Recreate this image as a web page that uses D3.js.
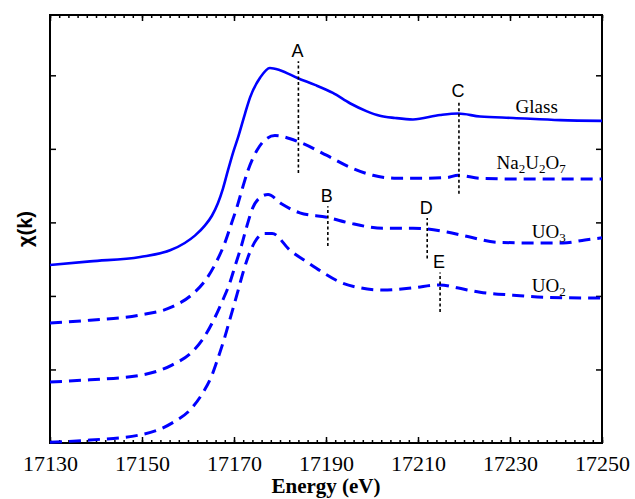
<!DOCTYPE html>
<html>
<head>
<meta charset="utf-8">
<script src="https://cdn.jsdelivr.net/npm/d3@7"></script>
<style>
  body { margin: 0; background: #fff; }
  svg { display: block; }
</style>
</head>
<body>
<div id="chart"></div>
<script>
// spectra (energy in eV, offset absorbance)
var glassE = [17130.0,17138.7,17149.6,17156.1,17159.3,17161.5,17163.7,17165.2,17166.5,17167.6,17168.7,17169.8,17170.9,17172.4,17173.5,17175.7,17177.8,17180.0,17183.9,17187.6,17191.5,17195.2,17198.9,17201.7,17205.0,17208.9,17214.8,17218.7,17223.5,17230.7,17240.9,17250.0];
var glassV = [2.42,2.47,2.53,2.62,2.72,2.82,2.96,3.09,3.26,3.46,3.71,3.95,4.16,4.48,4.70,4.97,5.10,5.07,4.96,4.87,4.76,4.62,4.51,4.45,4.42,4.40,4.46,4.48,4.44,4.42,4.39,4.38];

var naE = [17130.0,17138.7,17149.6,17156.5,17160.9,17164.1,17166.3,17168.0,17169.1,17170.7,17172.0,17173.0,17175.0,17176.7,17178.9,17184.3,17190.2,17195.2,17200.2,17205.4,17210.4,17216.3,17218.7,17223.5,17230.7,17240.9,17250.0];
var naV = [1.63,1.67,1.74,1.85,2.02,2.24,2.48,2.72,2.92,3.22,3.50,3.70,3.98,4.12,4.18,4.09,3.91,3.75,3.64,3.60,3.60,3.61,3.64,3.60,3.59,3.59,3.59];

var uo3E = [17130.0,17138.7,17149.6,17156.5,17160.9,17163.3,17165.4,17167.4,17169.1,17170.2,17171.7,17172.8,17174.1,17175.7,17177.4,17180.4,17184.3,17190.2,17195.2,17202.4,17208.9,17212.0,17216.3,17221.3,17227.2,17234.3,17241.5,17246.3,17250.0];
var uo3V = [0.83,0.86,0.92,1.06,1.24,1.42,1.65,1.92,2.18,2.40,2.70,2.95,3.20,3.34,3.38,3.25,3.13,3.07,2.99,2.92,2.92,2.91,2.87,2.80,2.73,2.72,2.72,2.76,2.79];

var uo2E = [17130.0,17138.7,17149.6,17156.5,17160.9,17163.3,17165.2,17166.5,17168.0,17169.1,17170.7,17171.7,17173.0,17175.0,17176.7,17178.3,17182.2,17185.9,17189.3,17193.0,17197.4,17202.4,17208.9,17214.8,17218.5,17223.5,17230.7,17238.0,17250.0];
var uo2V = [0.01,0.04,0.11,0.27,0.48,0.69,0.92,1.15,1.44,1.68,2.03,2.26,2.52,2.78,2.85,2.85,2.62,2.46,2.32,2.19,2.11,2.08,2.11,2.15,2.11,2.05,2.01,1.98,1.97];

// dotted feature markers
var markNames = ["A", "B", "C", "D", "E"];
var markE     = [17184, 17190.4, 17218.9, 17212, 17214.8];
var markLo    = [3.67, 2.68, 3.39, 2.51, 1.78];
var markHi    = [5.19, 3.22, 4.65, 3.06, 2.32];

var xTicks = [17130, 17150, 17170, 17190, 17210, 17230, 17250];
var yTicks = [1, 2, 3, 4, 5];

var width = 635, height = 499;
var margin = {top: 15, right: 33, bottom: 56, left: 50};

var svg = d3.select("#chart").append("svg")
    .attr("width", width)
    .attr("height", height);

var x = d3.scaleLinear().domain([17130, 17250]).range([margin.left, width - margin.right]);
var y = d3.scaleLinear().domain([0, 5.82]).range([height - margin.bottom, margin.top]);

var minor = d3.range(17130, 17251, 2);

// axes: ticks point inward
function styleAxis(g) {
    g.select(".domain").remove();
    g.selectAll(".tick line").attr("stroke", "#000").attr("stroke-width", 1.5);
}

svg.append("g")
    .attr("transform", "translate(0," + y(0) + ")")
    .call(d3.axisBottom(x).tickValues(minor).tickSize(-3).tickFormat(""))
    .call(styleAxis);
svg.append("g")
    .attr("transform", "translate(0," + y(0) + ")")
    .call(d3.axisBottom(x).tickValues(xTicks).tickSize(-6).tickPadding(12).tickFormat(d3.format("d")))
    .call(styleAxis)
    .selectAll("text")
    .attr("font-family", "'Liberation Serif', 'Times New Roman', serif")
    .attr("font-size", 22)
    .attr("fill", "#000");

svg.append("g")
    .attr("transform", "translate(0," + margin.top + ")")
    .call(d3.axisTop(x).tickValues(minor).tickSize(-3).tickFormat(""))
    .call(styleAxis);
svg.append("g")
    .attr("transform", "translate(0," + margin.top + ")")
    .call(d3.axisTop(x).tickValues(xTicks).tickSize(-6).tickFormat(""))
    .call(styleAxis);

svg.append("g")
    .attr("transform", "translate(" + margin.left + ",0)")
    .call(d3.axisLeft(y).tickValues(yTicks).tickSize(-6).tickFormat(""))
    .call(styleAxis);
svg.append("g")
    .attr("transform", "translate(" + (width - margin.right) + ",0)")
    .call(d3.axisRight(y).tickValues(yTicks).tickSize(-6).tickFormat(""))
    .call(styleAxis);

// frame
svg.append("rect")
    .attr("x", x(17130))
    .attr("y", y(5.82))
    .attr("width", x(17250) - x(17130))
    .attr("height", y(0) - y(5.82))
    .attr("fill", "none")
    .attr("stroke", "#000")
    .attr("stroke-width", 2);

var line = d3.line()
    .x(function (d) { return x(d[0]); })
    .y(function (d) { return y(d[1]); })
    .curve(d3.curveMonotoneX);

var series = [
    {E: glassE, V: glassV, dash: null},
    {E: naE, V: naV, dash: "12,7"},
    {E: uo3E, V: uo3V, dash: "12,7"},
    {E: uo2E, V: uo2V, dash: "12,7"}
];

series.forEach(function (s) {
    var pts = s.E.map(function (e, i) { return [e, s.V[i]]; });
    svg.append("path")
        .datum(pts)
        .attr("d", line)
        .attr("fill", "none")
        .attr("stroke", "#0000ff")
        .attr("stroke-width", s.dash ? 3 : 2.6)
        .attr("stroke-dasharray", s.dash);
});

// markers
markNames.forEach(function (n, i) {
    svg.append("line")
        .attr("x1", x(markE[i])).attr("x2", x(markE[i]))
        .attr("y1", y(markLo[i])).attr("y2", y(markHi[i]))
        .attr("stroke", "#000")
        .attr("stroke-width", 1.6)
        .attr("stroke-dasharray", "3,2.5");
    svg.append("text")
        .attr("x", x(markE[i]) - 1)
        .attr("y", y(markHi[i]) - 4)
        .attr("text-anchor", "middle")
        .attr("font-family", "'Liberation Sans', Arial, sans-serif")
        .attr("font-size", 18)
        .text(n);
});

// series labels with subscripts
var serif = "'Liberation Serif', 'Times New Roman', serif";
function subLabel(parts, xe, ye) {
    var t = svg.append("text")
        .attr("x", x(xe))
        .attr("y", y(ye))
        .attr("text-anchor", "end")
        .attr("font-family", serif)
        .attr("font-size", 19);
    var shift = 0;
    parts.forEach(function (p) {
        var ts = t.append("tspan").text(p[0]);
        var target = p[1] ? 4 : 0;
        ts.attr("dy", target - shift);
        if (p[1]) ts.attr("font-size", 13);
        shift = target;
    });
}
subLabel([["Glass", 0]], 17240.4, 4.49);
subLabel([["Na", 0], ["2", 1], ["U", 0], ["2", 1], ["O", 0], ["7", 1]], 17242.1, 3.72);
subLabel([["UO", 0], ["3", 1]], 17242.1, 2.79);
subLabel([["UO", 0], ["2", 1]], 17242.1, 2.05);

// axis titles
svg.append("text")
    .attr("x", x(17190))
    .attr("y", 493)
    .attr("text-anchor", "middle")
    .attr("font-family", serif)
    .attr("font-weight", "bold")
    .attr("font-size", 21)
    .text("Energy (eV)");

svg.append("text")
    .attr("transform", "translate(32," + y(2.91) + ") rotate(-90)")
    .attr("text-anchor", "middle")
    .attr("font-family", "'Liberation Sans', Arial, sans-serif")
    .attr("font-weight", "bold")
    .attr("font-size", 20)
    .text("\u03c7(k)");
</script>
</body>
</html>
